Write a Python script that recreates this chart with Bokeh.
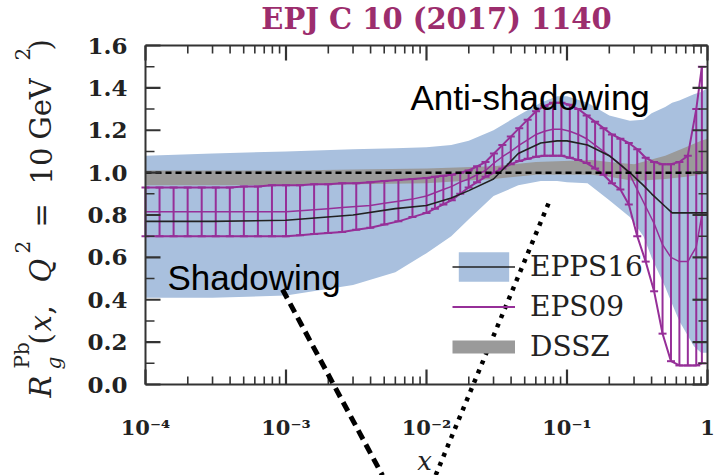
import math
from bokeh.plotting import figure
from bokeh.models import (LogAxis, LinearAxis, FixedTicker, CustomJSTickFormatter,
                          Label, Arrow, Legend, LegendItem, Range1d)
from bokeh.embed import file_html
from bokeh.resources import INLINE

# ---------------- data ----------------
xtick_vals = [1e-4, 1e-3, 1e-2, 1e-1, 1.0]
xtick_labels = ["10⁻⁴", "10⁻³", "10⁻²", "10⁻¹", "1"]
ytick_vals = [0.0, 0.2, 0.4, 0.6, 0.8, 1.0, 1.2, 1.4, 1.6]
ytick_labels = ["0.0", "0.2", "0.4", "0.6", "0.8", "1.0", "1.2", "1.4", "1.6"]
yminor_vals = [0.1, 0.3, 0.5, 0.7, 0.9, 1.1, 1.3, 1.5]
xminor_mantissas = [2, 3, 4, 5, 6, 7, 8, 9]

# EPPS16 (blue band + black central line)
epps_x = [1e-4, 3e-4, 1e-3, 3e-3, 6e-3, 0.01, 0.015, 0.02, 0.03, 0.045, 0.065, 0.085,
          0.1, 0.14, 0.2, 0.28, 0.35, 0.4, 0.5, 0.56, 0.63, 0.8, 0.9, 1.0]
epps_central = [0.77, 0.77, 0.775, 0.80, 0.83, 0.845, 0.88, 0.915, 0.97, 1.09, 1.14, 1.15,
                1.15, 1.13, 1.08, 1.0, 0.94, 0.90, 0.84, 0.81, 0.81, 0.81, 0.81, 0.81]
epps_upper = [1.08, 1.09, 1.10, 1.11, 1.115, 1.12, 1.13, 1.15, 1.20, 1.27, 1.33, 1.36,
              1.36, 1.33, 1.27, 1.245, 1.25, 1.28, 1.31, 1.33, 1.34, 1.37, 1.38, 1.40]
epps_lower = [0.41, 0.41, 0.42, 0.47, 0.53, 0.62, 0.70, 0.78, 0.89, 0.94, 0.96, 0.96,
              0.955, 0.95, 0.87, 0.79, 0.70, 0.60, 0.46, 0.38, 0.30, 0.18, 0.15, 0.15]

# DSSZ (gray band)
dssz_x = [1e-4, 1e-3, 0.01, 0.03, 0.06, 0.15, 0.2, 0.3, 0.5, 0.7, 0.9, 1.0]
dssz_lower = [0.94, 0.94, 0.95, 0.97, 0.99, 0.99, 0.98, 0.96, 0.97, 0.98, 0.99, 1.0]
dssz_upper = [1.01, 1.01, 1.02, 1.03, 1.05, 1.06, 1.05, 1.04, 1.08, 1.12, 1.15, 1.16]

# EPS09 (purple error bars)
eps09_log10x = [-4.0, -3.9, -3.8, -3.7, -3.6, -3.5, -3.4, -3.3, -3.2, -3.1, -3.0,
                -2.9, -2.8, -2.7, -2.6, -2.5, -2.4, -2.3, -2.2, -2.1, -2.0,
                -1.94, -1.88, -1.82, -1.76, -1.70, -1.64, -1.58, -1.52, -1.46, -1.40,
                -1.34, -1.28, -1.22, -1.16, -1.10, -1.04, -0.98, -0.92, -0.86, -0.80,
                -0.74, -0.68, -0.62, -0.56, -0.50, -0.44, -0.38, -0.32, -0.26, -0.20,
                -0.14, -0.08, -0.04]
eps09_upper = [0.93, 0.93, 0.93, 0.93, 0.93, 0.93, 0.93, 0.935, 0.935, 0.94, 0.94,
               0.94, 0.945, 0.945, 0.95, 0.95, 0.955, 0.96, 0.965, 0.97, 0.975,
               0.98, 0.985, 0.99, 1.0, 1.01, 1.03, 1.05, 1.09, 1.13, 1.17,
               1.21, 1.25, 1.29, 1.315, 1.33, 1.33, 1.32, 1.30, 1.27, 1.24,
               1.21, 1.18, 1.16, 1.14, 1.11, 1.07, 1.05, 1.04, 1.04, 1.05,
               1.08, 1.30, 1.50]
eps09_lower = [0.70, 0.70, 0.70, 0.70, 0.70, 0.70, 0.70, 0.70, 0.70, 0.70, 0.70,
               0.705, 0.71, 0.715, 0.72, 0.73, 0.74, 0.755, 0.77, 0.79, 0.81,
               0.83, 0.85, 0.87, 0.90, 0.93, 0.955, 0.98, 1.0, 1.02, 1.04,
               1.055, 1.065, 1.075, 1.08, 1.08, 1.08, 1.07, 1.06, 1.045, 1.02,
               0.99, 0.95, 0.92, 0.85, 0.70, 0.58, 0.44, 0.24, 0.11, 0.09,
               0.09, 0.09, 0.10]
eps09_central = [0.815, 0.815, 0.815, 0.815, 0.815, 0.815, 0.815, 0.815, 0.815, 0.815, 0.815,
                 0.82, 0.825, 0.83, 0.835, 0.84, 0.845, 0.855, 0.865, 0.875, 0.89,
                 0.905, 0.92, 0.935, 0.955, 0.97, 0.99, 1.01, 1.045, 1.075, 1.10,
                 1.13, 1.155, 1.18, 1.195, 1.205, 1.205, 1.195, 1.18, 1.16, 1.13,
                 1.10, 1.07, 1.04, 1.0, 0.92, 0.84, 0.76, 0.66, 0.60, 0.58,
                 0.58, 0.65, 0.80]
eps09_x = [10 ** v for v in eps09_log10x]

x_limits = [1e-4, 1.0]
y_limits = [0.0, 1.6]
reference_value = 1.0

# ---------------- styles / layout ----------------
BLUE = "#a9c0de"
GRAY = "#9a9a9a"
PURPLE = "#962f98"
TITLE_C = "#9c2d6d"
AX = "#333333"
SERIF = "DejaVu Serif"
SANS = "Liberation Sans"

W, H = 722, 475
FL, FR, FT, FB = 145, 707, 45, 384          # where the axis box sits on the page
px_per_dec = (FR - FL) / math.log10(x_limits[1] / x_limits[0])
px_per_unit = (FB - FT) / (y_limits[1] - y_limits[0])
x_lo = 10 ** (math.log10(x_limits[0]) - FL / px_per_dec)
x_hi = 10 ** (math.log10(x_limits[1]) + (W - FR) / px_per_dec)
y_lo = y_limits[0] - (H - FB) / px_per_unit
y_hi = y_limits[1] + FT / px_per_unit


def sx(px):
    return px


def sy(py):
    return H - py


p = figure(width=W, height=H, x_axis_type="log",
           x_range=Range1d(x_lo, x_hi), y_range=Range1d(y_lo, y_hi),
           output_backend="svg", toolbar_location=None,
           min_border=0, min_border_left=0, min_border_right=0,
           min_border_top=0, min_border_bottom=0,
           background_fill_color="white", border_fill_color="white",
           outline_line_color=None)
p.grid.visible = False

xfmt = CustomJSTickFormatter(args=dict(vals=xtick_vals, labels=xtick_labels), code="""
let best = -1, bd = 1e9;
for (let i = 0; i < vals.length; i++) {
  const d = Math.abs(Math.log10(tick) - Math.log10(vals[i]));
  if (d < bd) { bd = d; best = i; }
}
return bd < 1e-6 ? labels[best] : "";
""")
yfmt = CustomJSTickFormatter(args=dict(vals=ytick_vals, labels=ytick_labels), code="""
let best = -1, bd = 1e9;
for (let i = 0; i < vals.length; i++) {
  const d = Math.abs(tick - vals[i]);
  if (d < bd) { bd = d; best = i; }
}
return bd < 1e-6 ? labels[best] : "";
""")
blank = CustomJSTickFormatter(code="return '';")

xaxis = p.xaxis[0]
yaxis = p.yaxis[0]
xaxis.ticker = FixedTicker(ticks=xtick_vals)
xaxis.formatter = xfmt
yaxis.ticker = FixedTicker(ticks=ytick_vals)
yaxis.formatter = yfmt

top = LogAxis(ticker=FixedTicker(ticks=xtick_vals), formatter=blank)
right = LinearAxis(ticker=FixedTicker(ticks=ytick_vals), formatter=blank)

xaxis.fixed_location = y_limits[0]
top.fixed_location = y_limits[1]
yaxis.fixed_location = x_limits[0]
right.fixed_location = x_limits[1]
for ax in (xaxis, top):
    ax.bounds = (x_limits[0], x_limits[1])
for ax in (yaxis, right):
    ax.bounds = (y_limits[0], y_limits[1])

for ax in (xaxis, yaxis, top, right):
    ax.axis_line_color = AX
    ax.axis_line_width = 2
    ax.major_tick_in = 0
    ax.major_tick_out = 0
    ax.minor_tick_in = 0
    ax.minor_tick_out = 0
    ax.major_label_text_font = SERIF
    ax.major_label_text_font_style = "bold"
    ax.major_label_text_color = "#222222"

xaxis.major_label_text_font_size = "21px"
xaxis.major_label_standoff = 30
yaxis.major_label_text_font_size = "23px"
yaxis.major_label_standoff = 18
p.add_layout(top, "above")
p.add_layout(right, "right")

# bands
blue = p.varea(x=epps_x, y1=epps_lower, y2=epps_upper, fill_color=BLUE, fill_alpha=1.0)
gray = p.varea(x=dssz_x, y1=dssz_lower, y2=dssz_upper, fill_color=GRAY, fill_alpha=1.0)

# EPS09
p.segment(x0=eps09_x, y0=eps09_lower, x1=eps09_x, y1=eps09_upper, line_color=PURPLE, line_width=2)
p.scatter(x=eps09_x, y=eps09_upper, marker="dash", size=8, line_color=PURPLE, line_width=2)
p.scatter(x=eps09_x, y=eps09_lower, marker="dash", size=8, line_color=PURPLE, line_width=2)
purple_up = p.line(x=eps09_x, y=eps09_upper, line_color=PURPLE, line_width=2)
p.line(x=eps09_x, y=eps09_lower, line_color=PURPLE, line_width=2)
p.line(x=eps09_x, y=eps09_central, line_color=PURPLE, line_width=1.5)

# EPPS16 central
black = p.line(x=epps_x, y=epps_central, line_color="#222222", line_width=1.6)

# reference line at 1
p.line(x=x_limits, y=[reference_value, reference_value], line_color="black",
       line_width=2.5, line_dash="6 4")

# inward tick marks on all four sides of the axis box
xminor_vals = [m * v for v in xtick_vals[:-1] for m in xminor_mantissas]
for vals, L, wd in ((xtick_vals, 15, 2.2), (xminor_vals, 8, 1.6)):
    n = len(vals)
    d = L / px_per_unit
    p.segment(x0=vals, y0=[y_limits[0]] * n, x1=vals, y1=[y_limits[0] + d] * n,
              line_color=AX, line_width=wd)
    p.segment(x0=vals, y0=[y_limits[1]] * n, x1=vals, y1=[y_limits[1] - d] * n,
              line_color=AX, line_width=wd)
for vals, L, wd in ((ytick_vals, 15, 2.2), (yminor_vals, 9, 1.6)):
    n = len(vals)
    f = 10 ** (L / px_per_dec)
    p.segment(x0=[x_limits[0]] * n, y0=vals, x1=[x_limits[0] * f] * n, y1=vals,
              line_color=AX, line_width=wd)
    p.segment(x0=[x_limits[1]] * n, y0=vals, x1=[x_limits[1] / f] * n, y1=vals,
              line_color=AX, line_width=wd)

# legend
gray_proxy = p.line(x=[dssz_x[0], dssz_x[0]], y=[dssz_lower[0], dssz_lower[0]],
                    line_color=GRAY, line_width=13, line_alpha=1.0)
legend = Legend(items=[LegendItem(label="EPPS16", renderers=[blue, black]),
                       LegendItem(label="EPS09", renderers=[purple_up]),
                       LegendItem(label="DSSZ", renderers=[gray_proxy])],
                location=(452, H - 365), padding=0, margin=0, spacing=3,
                glyph_width=63, glyph_height=37, label_height=37, label_standoff=15,
                label_text_font=SERIF, label_text_font_size="28px", label_text_color="#222222",
                border_line_color=None, background_fill_alpha=0)
p.add_layout(legend)

# annotation lines
p.add_layout(Arrow(start=None, end=None, x_start=sx(282), y_start=sy(289), x_end=sx(382), y_end=sy(475),
                   start_units="screen", end_units="screen", line_color="black",
                   line_width=5, line_dash="10 6"))
p.add_layout(Arrow(start=None, end=None, x_start=sx(548), y_start=sy(203), x_end=sx(435), y_end=sy(475),
                   start_units="screen", end_units="screen", line_color="black",
                   line_width=4.5, line_dash="4 6"))


def lab(text, px, py, size, font=SERIF, style="normal", color="#222222", align="left",
        baseline="alphabetic", angle=0.0):
    p.add_layout(Label(x=sx(px), y=sy(py), x_units="screen", y_units="screen", text=text,
                       text_font=font, text_font_size=f"{size}px", text_font_style=style,
                       text_color=color, text_align=align, text_baseline=baseline, angle=angle))


lab("EPJ C 10 (2017) 1140", 436, 18, 29, style="bold", color=TITLE_C, align="center", baseline="middle")
lab("Anti-shadowing", 410, 97, 35, font=SANS, color="black")
lab("Shadowing", 167, 277, 35, font=SANS, color="black")
lab("x", 424, 460, 26, style="italic", align="center")

ylabel_parts = [
    ("R", 40, 397, 29, "italic"),
    ("Pb", 21, 368, 20, "normal"),
    ("g", 53, 369, 20, "italic"),
    ("(", 40, 344, 29, "normal"),
    ("x", 40, 331, 29, "italic"),
    (",", 40, 314, 29, "normal"),
    ("Q", 40, 282, 29, "italic"),
    ("2", 22, 253, 20, "normal"),
    ("=", 40, 227, 29, "normal"),
    ("10", 40, 184, 29, "normal"),
    ("GeV", 40, 139, 29, "normal"),
    ("2", 22, 60, 20, "normal"),
    (")", 40, 50, 29, "normal"),
]
for t, px, py, s, st in ylabel_parts:
    lab(t, px, py, s, style=st, angle=math.pi / 2)

open("out.html", "w").write(file_html(p, INLINE))
